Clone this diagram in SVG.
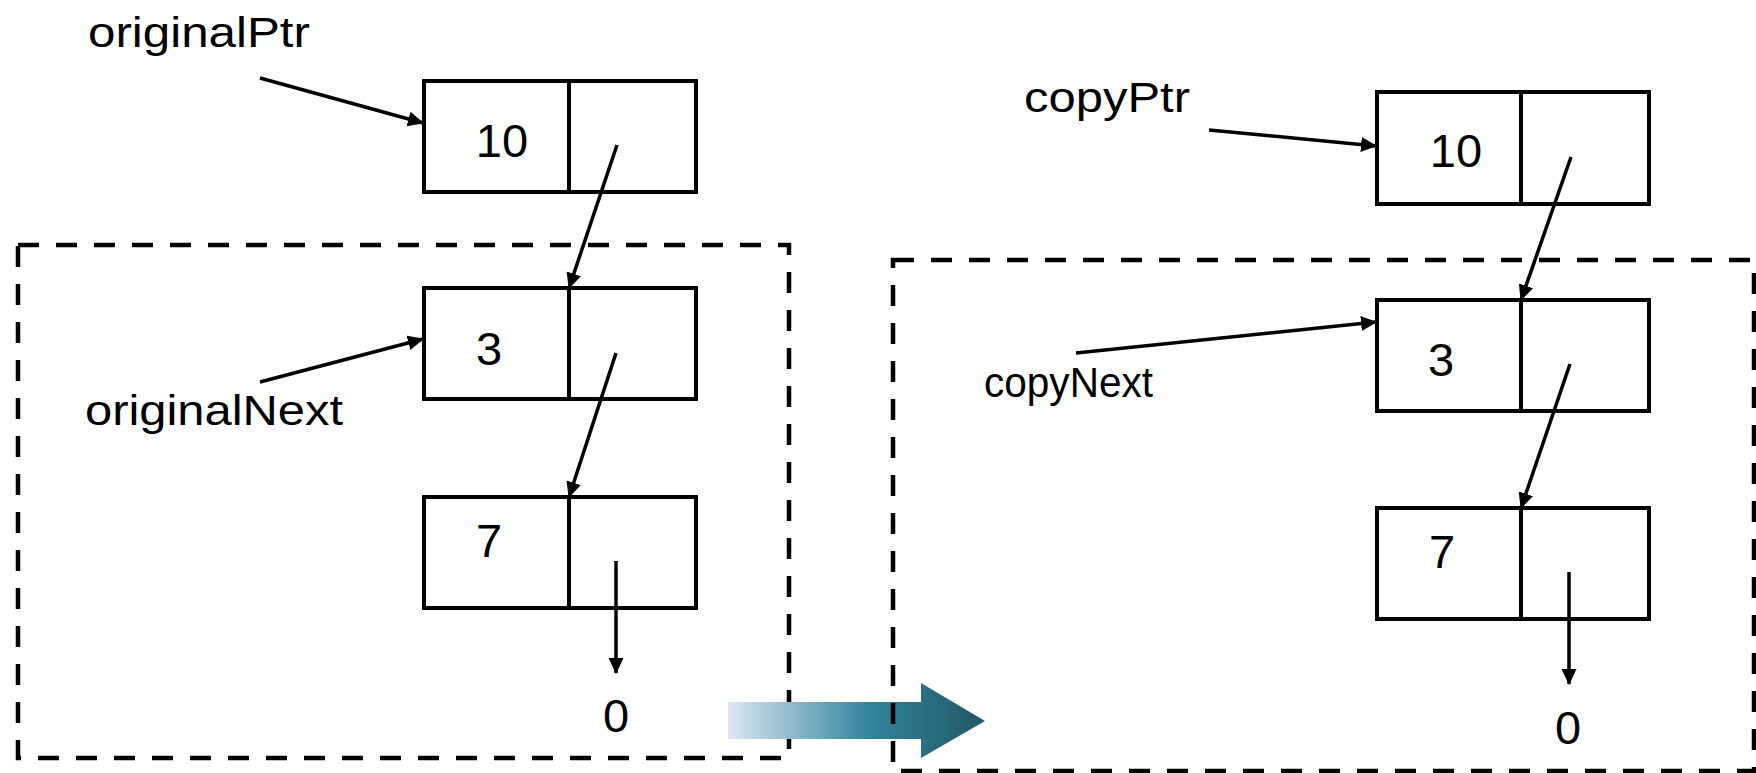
<svg xmlns="http://www.w3.org/2000/svg" width="1756" height="773" viewBox="0 0 1756 773">
  <style>
    .cell { fill: #ffffff; stroke: #000000; stroke-width: 4; }
    .div { stroke: #000000; stroke-width: 4; }
    .scope { fill: none; stroke: #000000; stroke-width: 4.5; stroke-dasharray: 21 17; }
    .link { stroke: #000000; stroke-width: 3.5; fill: none; marker-end: url(#head); }
    .val { font-family: "Liberation Sans", Arial, sans-serif; font-size: 47px; fill: #000000; text-anchor: middle; }
    .lbl { font-family: "Liberation Sans", Arial, sans-serif; font-size: 43px; fill: #000000; }
  </style>
  <defs>
    <marker id="head" markerUnits="userSpaceOnUse" markerWidth="17" markerHeight="16" refX="15" refY="7.5" orient="auto">
      <path d="M0,0 L16,7.5 L0,15 z" fill="#000000"/>
    </marker>
    <linearGradient id="flow" x1="728" y1="0" x2="985" y2="0" gradientUnits="userSpaceOnUse">
      <stop offset="0" stop-color="#dde7f3"/>
      <stop offset="0.55" stop-color="#31849b"/>
      <stop offset="1" stop-color="#215865"/>
    </linearGradient>
  </defs>

  <!-- dashed scope around the original tail -->
  <rect id="scope-original" class="scope" x="18" y="245" width="771" height="513"/>

  <!-- copy direction arrow -->
  <path id="copy-arrow" d="M728,702 L921,702 L921,683 L985,721 L921,758 L921,739 L728,739 z" fill="url(#flow)"/>

  <!-- dashed scope around the copied tail -->
  <rect id="scope-copy" class="scope" x="893" y="260" width="861" height="511"/>

  <!-- original list -->
  <g id="orig-node-10">
    <rect class="cell" x="424" y="81" width="272" height="111"/>
    <line class="div" x1="569" y1="81" x2="569" y2="192"/>
    <text class="val" x="502" y="157">10</text>
  </g>
  <g id="orig-node-3">
    <rect class="cell" x="424" y="288" width="272" height="111"/>
    <line class="div" x1="569" y1="288" x2="569" y2="399"/>
    <text class="val" x="489" y="365">3</text>
  </g>
  <g id="orig-node-7">
    <rect class="cell" x="424" y="497" width="272" height="111"/>
    <line class="div" x1="569" y1="497" x2="569" y2="608"/>
    <text class="val" x="489" y="557">7</text>
  </g>
  <g id="orig-null">
    <text class="val" x="616" y="732">0</text>
  </g>
  <g id="orig-ptr-label">
    <text class="lbl" x="88" y="47" textLength="222" lengthAdjust="spacingAndGlyphs">originalPtr</text>
  </g>
  <g id="orig-next-label">
    <text class="lbl" x="85" y="425" textLength="258" lengthAdjust="spacingAndGlyphs">originalNext</text>
  </g>

  <!-- copied list -->
  <g id="copy-node-10">
    <rect class="cell" x="1377" y="92" width="272" height="112"/>
    <line class="div" x1="1521" y1="92" x2="1521" y2="204"/>
    <text class="val" x="1456" y="167">10</text>
  </g>
  <g id="copy-node-3">
    <rect class="cell" x="1377" y="300" width="272" height="111"/>
    <line class="div" x1="1521" y1="300" x2="1521" y2="411"/>
    <text class="val" x="1441" y="376">3</text>
  </g>
  <g id="copy-node-7">
    <rect class="cell" x="1377" y="508" width="272" height="111"/>
    <line class="div" x1="1521" y1="508" x2="1521" y2="619"/>
    <text class="val" x="1442" y="568">7</text>
  </g>
  <g id="copy-null">
    <text class="val" x="1568" y="744">0</text>
  </g>
  <g id="copy-ptr-label">
    <text class="lbl" x="1024" y="112" textLength="166" lengthAdjust="spacingAndGlyphs">copyPtr</text>
  </g>
  <g id="copy-next-label">
    <text class="lbl" x="984" y="397" textLength="169" lengthAdjust="spacingAndGlyphs">copyNext</text>
  </g>

  <!-- pointers -->
  <g id="connectors">
    <line class="link" x1="260" y1="78" x2="423" y2="123"/>
    <line class="link" x1="617" y1="145" x2="569" y2="288"/>
    <line class="link" x1="260" y1="382" x2="423" y2="339"/>
    <line class="link" x1="616" y1="353" x2="569" y2="497"/>
    <line class="link" x1="616" y1="561" x2="616" y2="673"/>

    <line class="link" x1="1209" y1="130" x2="1376" y2="146"/>
    <line class="link" x1="1571" y1="157" x2="1521" y2="300"/>
    <line class="link" x1="1076" y1="353" x2="1376" y2="322"/>
    <line class="link" x1="1570" y1="364" x2="1521" y2="508"/>
    <line class="link" x1="1569" y1="572" x2="1569" y2="684"/>
  </g>
</svg>
